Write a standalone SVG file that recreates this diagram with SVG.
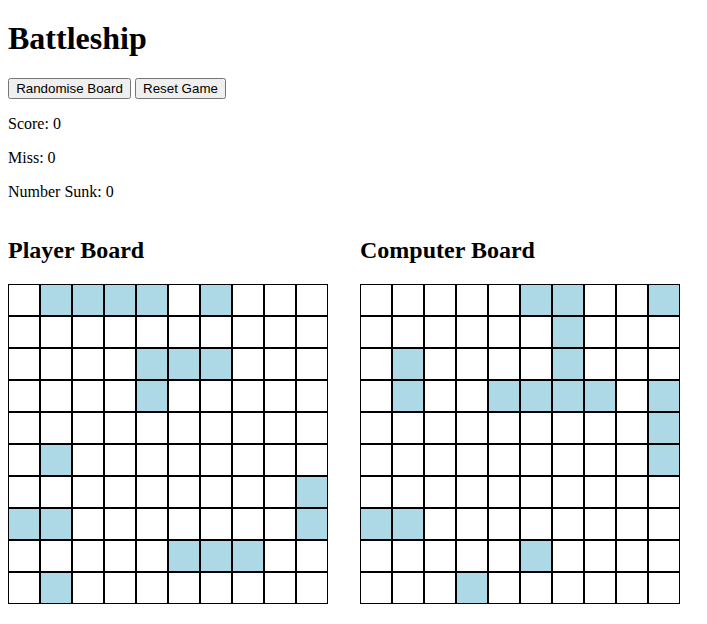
<svg xmlns="http://www.w3.org/2000/svg" width="707" height="624" viewBox="0 0 707 624">
<style>
.h1{font-family:"Liberation Serif",serif;font-weight:bold;font-size:32px;fill:#000}
.h2{font-family:"Liberation Serif",serif;font-weight:bold;font-size:24px;fill:#000}
.p{font-family:"Liberation Serif",serif;font-size:16px;fill:#000}
.btn rect{fill:#efefef;stroke:#767676;stroke-width:1}
.btn text{font-family:"Liberation Sans",Arial,sans-serif;font-size:13.33px;fill:#000;text-anchor:middle}
.c{fill:#fff;stroke:#000;stroke-width:1}
.s{fill:#add8e6;stroke:#000;stroke-width:1}
</style>
<defs>
<rect id="w" class="c" x="0.5" y="0.5" width="31" height="31"/>
<rect id="b" class="s" x="0.5" y="0.5" width="31" height="31"/>
</defs>
<rect width="707" height="624" fill="#fff"/>
<g id="title"><text class="h1" x="8" y="49">Battleship</text></g>
<g id="btn-randomise" class="btn"><rect x="8.5" y="78.5" width="122" height="20" rx="2"/><text x="69.5" y="93">Randomise Board</text></g>
<g id="btn-reset" class="btn"><rect x="135.5" y="78.5" width="90" height="20" rx="2"/><text x="180.5" y="93">Reset Game</text></g>
<g id="stats">
<text class="p" x="8" y="129">Score: 0</text>
<text class="p" x="8" y="163">Miss: 0</text>
<text class="p" x="8" y="197">Number Sunk: 0</text>
</g>
<g id="player-label"><text class="h2" x="8" y="258">Player Board</text></g>
<g id="computer-label"><text class="h2" x="360" y="258">Computer Board</text></g>
<g id="player-board" transform="translate(8,284)">
<!-- row 0 -->
<use href="#w" x="0" y="0"/><use href="#b" x="32" y="0"/><use href="#b" x="64" y="0"/><use href="#b" x="96" y="0"/><use href="#b" x="128" y="0"/><use href="#w" x="160" y="0"/><use href="#b" x="192" y="0"/><use href="#w" x="224" y="0"/><use href="#w" x="256" y="0"/><use href="#w" x="288" y="0"/>
<!-- row 1 -->
<use href="#w" x="0" y="32"/><use href="#w" x="32" y="32"/><use href="#w" x="64" y="32"/><use href="#w" x="96" y="32"/><use href="#w" x="128" y="32"/><use href="#w" x="160" y="32"/><use href="#w" x="192" y="32"/><use href="#w" x="224" y="32"/><use href="#w" x="256" y="32"/><use href="#w" x="288" y="32"/>
<!-- row 2 -->
<use href="#w" x="0" y="64"/><use href="#w" x="32" y="64"/><use href="#w" x="64" y="64"/><use href="#w" x="96" y="64"/><use href="#b" x="128" y="64"/><use href="#b" x="160" y="64"/><use href="#b" x="192" y="64"/><use href="#w" x="224" y="64"/><use href="#w" x="256" y="64"/><use href="#w" x="288" y="64"/>
<!-- row 3 -->
<use href="#w" x="0" y="96"/><use href="#w" x="32" y="96"/><use href="#w" x="64" y="96"/><use href="#w" x="96" y="96"/><use href="#b" x="128" y="96"/><use href="#w" x="160" y="96"/><use href="#w" x="192" y="96"/><use href="#w" x="224" y="96"/><use href="#w" x="256" y="96"/><use href="#w" x="288" y="96"/>
<!-- row 4 -->
<use href="#w" x="0" y="128"/><use href="#w" x="32" y="128"/><use href="#w" x="64" y="128"/><use href="#w" x="96" y="128"/><use href="#w" x="128" y="128"/><use href="#w" x="160" y="128"/><use href="#w" x="192" y="128"/><use href="#w" x="224" y="128"/><use href="#w" x="256" y="128"/><use href="#w" x="288" y="128"/>
<!-- row 5 -->
<use href="#w" x="0" y="160"/><use href="#b" x="32" y="160"/><use href="#w" x="64" y="160"/><use href="#w" x="96" y="160"/><use href="#w" x="128" y="160"/><use href="#w" x="160" y="160"/><use href="#w" x="192" y="160"/><use href="#w" x="224" y="160"/><use href="#w" x="256" y="160"/><use href="#w" x="288" y="160"/>
<!-- row 6 -->
<use href="#w" x="0" y="192"/><use href="#w" x="32" y="192"/><use href="#w" x="64" y="192"/><use href="#w" x="96" y="192"/><use href="#w" x="128" y="192"/><use href="#w" x="160" y="192"/><use href="#w" x="192" y="192"/><use href="#w" x="224" y="192"/><use href="#w" x="256" y="192"/><use href="#b" x="288" y="192"/>
<!-- row 7 -->
<use href="#b" x="0" y="224"/><use href="#b" x="32" y="224"/><use href="#w" x="64" y="224"/><use href="#w" x="96" y="224"/><use href="#w" x="128" y="224"/><use href="#w" x="160" y="224"/><use href="#w" x="192" y="224"/><use href="#w" x="224" y="224"/><use href="#w" x="256" y="224"/><use href="#b" x="288" y="224"/>
<!-- row 8 -->
<use href="#w" x="0" y="256"/><use href="#w" x="32" y="256"/><use href="#w" x="64" y="256"/><use href="#w" x="96" y="256"/><use href="#w" x="128" y="256"/><use href="#b" x="160" y="256"/><use href="#b" x="192" y="256"/><use href="#b" x="224" y="256"/><use href="#w" x="256" y="256"/><use href="#w" x="288" y="256"/>
<!-- row 9 -->
<use href="#w" x="0" y="288"/><use href="#b" x="32" y="288"/><use href="#w" x="64" y="288"/><use href="#w" x="96" y="288"/><use href="#w" x="128" y="288"/><use href="#w" x="160" y="288"/><use href="#w" x="192" y="288"/><use href="#w" x="224" y="288"/><use href="#w" x="256" y="288"/><use href="#w" x="288" y="288"/>
</g>
<g id="computer-board" transform="translate(360,284)">
<!-- row 0 -->
<use href="#w" x="0" y="0"/><use href="#w" x="32" y="0"/><use href="#w" x="64" y="0"/><use href="#w" x="96" y="0"/><use href="#w" x="128" y="0"/><use href="#b" x="160" y="0"/><use href="#b" x="192" y="0"/><use href="#w" x="224" y="0"/><use href="#w" x="256" y="0"/><use href="#b" x="288" y="0"/>
<!-- row 1 -->
<use href="#w" x="0" y="32"/><use href="#w" x="32" y="32"/><use href="#w" x="64" y="32"/><use href="#w" x="96" y="32"/><use href="#w" x="128" y="32"/><use href="#w" x="160" y="32"/><use href="#b" x="192" y="32"/><use href="#w" x="224" y="32"/><use href="#w" x="256" y="32"/><use href="#w" x="288" y="32"/>
<!-- row 2 -->
<use href="#w" x="0" y="64"/><use href="#b" x="32" y="64"/><use href="#w" x="64" y="64"/><use href="#w" x="96" y="64"/><use href="#w" x="128" y="64"/><use href="#w" x="160" y="64"/><use href="#b" x="192" y="64"/><use href="#w" x="224" y="64"/><use href="#w" x="256" y="64"/><use href="#w" x="288" y="64"/>
<!-- row 3 -->
<use href="#w" x="0" y="96"/><use href="#b" x="32" y="96"/><use href="#w" x="64" y="96"/><use href="#w" x="96" y="96"/><use href="#b" x="128" y="96"/><use href="#b" x="160" y="96"/><use href="#b" x="192" y="96"/><use href="#b" x="224" y="96"/><use href="#w" x="256" y="96"/><use href="#b" x="288" y="96"/>
<!-- row 4 -->
<use href="#w" x="0" y="128"/><use href="#w" x="32" y="128"/><use href="#w" x="64" y="128"/><use href="#w" x="96" y="128"/><use href="#w" x="128" y="128"/><use href="#w" x="160" y="128"/><use href="#w" x="192" y="128"/><use href="#w" x="224" y="128"/><use href="#w" x="256" y="128"/><use href="#b" x="288" y="128"/>
<!-- row 5 -->
<use href="#w" x="0" y="160"/><use href="#w" x="32" y="160"/><use href="#w" x="64" y="160"/><use href="#w" x="96" y="160"/><use href="#w" x="128" y="160"/><use href="#w" x="160" y="160"/><use href="#w" x="192" y="160"/><use href="#w" x="224" y="160"/><use href="#w" x="256" y="160"/><use href="#b" x="288" y="160"/>
<!-- row 6 -->
<use href="#w" x="0" y="192"/><use href="#w" x="32" y="192"/><use href="#w" x="64" y="192"/><use href="#w" x="96" y="192"/><use href="#w" x="128" y="192"/><use href="#w" x="160" y="192"/><use href="#w" x="192" y="192"/><use href="#w" x="224" y="192"/><use href="#w" x="256" y="192"/><use href="#w" x="288" y="192"/>
<!-- row 7 -->
<use href="#b" x="0" y="224"/><use href="#b" x="32" y="224"/><use href="#w" x="64" y="224"/><use href="#w" x="96" y="224"/><use href="#w" x="128" y="224"/><use href="#w" x="160" y="224"/><use href="#w" x="192" y="224"/><use href="#w" x="224" y="224"/><use href="#w" x="256" y="224"/><use href="#w" x="288" y="224"/>
<!-- row 8 -->
<use href="#w" x="0" y="256"/><use href="#w" x="32" y="256"/><use href="#w" x="64" y="256"/><use href="#w" x="96" y="256"/><use href="#w" x="128" y="256"/><use href="#b" x="160" y="256"/><use href="#w" x="192" y="256"/><use href="#w" x="224" y="256"/><use href="#w" x="256" y="256"/><use href="#w" x="288" y="256"/>
<!-- row 9 -->
<use href="#w" x="0" y="288"/><use href="#w" x="32" y="288"/><use href="#w" x="64" y="288"/><use href="#b" x="96" y="288"/><use href="#w" x="128" y="288"/><use href="#w" x="160" y="288"/><use href="#w" x="192" y="288"/><use href="#w" x="224" y="288"/><use href="#w" x="256" y="288"/><use href="#w" x="288" y="288"/>
</g>
</svg>
